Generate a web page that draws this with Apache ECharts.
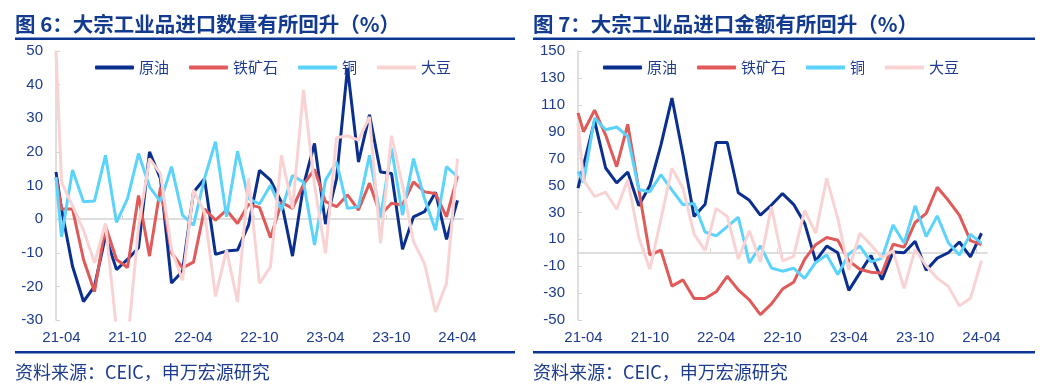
<!DOCTYPE html>
<html>
<head>
<meta charset="utf-8">
<script src="https://cdn.jsdelivr.net/npm/echarts@6/dist/echarts.min.js"></script>
<style>
html,body{margin:0;padding:0;background:#fff;}
#c{width:1043px;height:390px;}
</style>
</head>
<body>
<div id="c"></div>
<script>
// ---- tick labels / categories (monthly, 21-04 .. 24-04) ----
const months = ['21-04','21-05','21-06','21-07','21-08','21-09','21-10','21-11','21-12',
  '22-01','22-02','22-03','22-04','22-05','22-06','22-07','22-08','22-09','22-10','22-11','22-12',
  '23-01','23-02','23-03','23-04','23-05','23-06','23-07','23-08','23-09','23-10','23-11','23-12',
  '24-01','24-02','24-03','24-04'];
const labelMonths = ['21-04','21-10','22-04','22-10','23-04','23-10','24-04'];
// the first reading of every series sits half a month before 21-04, on the axis edge
const leadOffset = -0.5;

const seriesNames = ['原油','铁矿石','铜','大豆'];

// ---- 图6: import volume yoy (%) : first value = lead reading, then 21-04..24-04 ----
const oilQty    = [14, 3, -14, -24.5, -20, -5, -15, -12, -8.5, 20, 12, -19, -15.5, 8, 12, -10.5, -9.5, -9.2, -1.8, 14.5, 11.6, 5, -11, 10, 22.5, -1.5, 12, 45, 17, 31, 14, 13.6, -9, 0.7, 2.2, 8, -6, 5.6];
const oreQty    = [12.5, 3, 3, -12, -21.6, -2, -12, -14.4, 7, -11, 9.5, -10, -14.5, -12.8, 3, -0.3, 2.7, -1.3, 4.4, 3.5, -5.5, 5, 3.2, 10.3, 14.8, 5.2, 3.7, 7.2, 2.7, 10.7, 1.2, 4.7, 4.2, 11.1, 8.1, 7.6, 0.7, 12.8];
const copperQty = [12.5, -5.3, 14.6, 5.2, 5.4, 19, -1, 6.1, 19.5, 9.6, 5.2, 15.6, 1.2, -1.8, 12.1, 23, 0.7, 20.2, 6.1, 4.5, 10.1, 2.7, 13, 11, -7.7, 11.6, 17, 3.2, 3.7, 19, 0.5, 21, 1.2, 18, 6.1, -3.3, 15.6, 12.6];
const soyQty    = [50, 11, 4, -3.3, -13, -1.3, -33, -37, -2.5, 18, 13.5, -9, -18.2, 8.6, 2, -23, -9.2, -24.6, 12.1, -19.1, -14.2, 19, 3.2, 38.4, 10.1, -10.2, 24.2, 24.8, 23.5, 30.4, -7.2, 24.8, 10.1, -6.7, -13.2, -27.6, -19.1, 18];

// ---- 图7: import value yoy (%) ----
const oilVal    = [48, 65, 98, 63, 52, 60, 35, 50, 80, 115, 72.7, 27, 36, 82, 82, 44.6, 39, 28, 35.5, 44, 36, 22, -6, 5, 0, -28, -15, -2, -20, 0.5, 0, 8.5, -13, -4, 0, 8, -3, 14.5];
const oreVal    = [104, 90, 106, 87.5, 64, 95.5, 47, -1.7, 2, -24.8, -20.2, -34, -34, -29, -17.5, -27.6, -35, -46, -38, -27, -22, -5, 6, 11.3, 9.3, -6, -12.3, -14.5, -15, 6.3, 4.2, 22.5, 29.3, 48.7, 39, 28, 9, 6];
const copperVal = [60.5, 52.2, 100.2, 91.5, 93.5, 86.5, 47, 45.4, 58, 46.6, 35.7, 36.7, 15.4, 12.6, 19.4, 26.4, -7.6, 5.1, -11.3, -13.7, -11.5, -19, -7.2, -1.7, -16.2, -1, 5, -6.8, -4, 20.6, 7.2, 34.9, 12, 27.4, 7.5, -1.7, 13.7, 7.2];
const soyVal    = [96, 54, 41.8, 45, 32.3, 54.3, 11.3, -12.2, 24.8, 62.8, 48, 13.8, 1.6, 33, 27, -4.8, 16.3, -6.8, 34.2, -6, -2.7, 31.5, 14.5, 55.3, 25.6, -12.8, 14.5, 5.7, -3.6, 1.4, -26.5, 2.5, -9.6, -19, -25, -39.5, -33.9, -5.9];

const titles = ['图 6：大宗工业品进口数量有所回升（%）', '图 7：大宗工业品进口金额有所回升（%）'];
const source = '资料来源：CEIC，申万宏源研究';

// ---- styling ----
const colors = ['#0b2f8e', '#e05a5a', '#5cd3fb', '#f9d3d3'];
const textBlue = '#1d3c8f';
const titleBlue = '#123a8f';
const lineBlue = '#0b3791';
const axisGray = '#d4d4d4';
const numFont = '"Liberation Sans", Arial, "Noto Sans CJK SC", sans-serif';
const cjkFont = '"Noto Sans CJK SC", "Liberation Sans", sans-serif';

const xPos = [leadOffset].concat(months.map((m, i) => i));
const labelIdx = labelMonths.map(m => months.indexOf(m));
const tickPos = labelIdx.map(i => i - 0.5).filter(v => v > leadOffset);
const xMin = leadOffset, xMax = months.length - 1 + 0.5;

function toPairs(arr) { return arr.map((v, i) => [xPos[i], v]); }

const grids = [
  {left: 56, top: 51, width: 407, height: 269, outerBoundsMode: 'none'},
  {left: 578, top: 51, width: 409, height: 269, outerBoundsMode: 'none'}
];

function labelAxis(g) {
  return {
    type: 'value', gridIndex: g, min: xMin, max: xMax, position: 'bottom',
    axisLine: {show: false, onZero: false}, axisTick: {show: false}, splitLine: {show: false},
    axisLabel: {customValues: labelIdx, formatter: v => months[Math.round(v)],
      color: textBlue, fontSize: 15, fontFamily: numFont, margin: 10}
  };
}
function zeroAxis(g) {
  return {
    type: 'value', gridIndex: g, min: xMin, max: xMax, position: 'bottom',
    axisLine: {show: true, onZero: true, lineStyle: {color: axisGray, width: 1.5}},
    axisTick: {show: true, inside: true, length: 4, customValues: tickPos, lineStyle: {color: axisGray, width: 1}},
    axisLabel: {show: false}, splitLine: {show: false}
  };
}
function yAxis(g, min, max, interval) {
  return {
    type: 'value', gridIndex: g, min: min, max: max, interval: interval,
    axisLine: {show: true, onZero: false, lineStyle: {color: axisGray, width: 1.5}},
    axisTick: {show: true, inside: true, length: 4, lineStyle: {color: axisGray}},
    splitLine: {show: false},
    axisLabel: {color: textBlue, fontSize: 15, fontFamily: numFont, margin: 13}
  };
}

const qtySets = [oilQty, oreQty, copperQty, soyQty];
const valSets = [oilVal, oreVal, copperVal, soyVal];
const series = [];
qtySets.forEach((arr, k) => series.push({
  name: seriesNames[k], type: 'line', xAxisIndex: 0, yAxisIndex: 0, data: toPairs(arr),
  symbol: 'none', clip: true, lineStyle: {color: colors[k], width: 3}, itemStyle: {color: colors[k]}, z: 2 + k
}));
valSets.forEach((arr, k) => series.push({
  name: seriesNames[k], type: 'line', xAxisIndex: 2, yAxisIndex: 1, data: toPairs(arr),
  symbol: 'none', clip: true, lineStyle: {color: colors[k], width: 3}, itemStyle: {color: colors[k]}, z: 2 + k
}));

function legend(left) {
  return {
    left: left, top: 55, data: seriesNames, icon: 'roundRect', itemWidth: 39, itemHeight: 4, itemGap: 20,
    selectedMode: false,
    textStyle: {color: textBlue, fontSize: 15, fontFamily: cjkFont}
  };
}

const panelX = [15, 533];
const panelW = [500, 502];
const graphic = [];
[0, 1].forEach(p => {
  graphic.push({type: 'text', left: panelX[p], top: 14, silent: true,
    style: {text: titles[p], fill: titleBlue, font: 'bold 20.5px ' + cjkFont}});
  graphic.push({type: 'rect', shape: {x: panelX[p], y: 37.5, width: panelW[p], height: 2.6}, silent: true,
    style: {fill: lineBlue}});
  graphic.push({type: 'rect', shape: {x: panelX[p], y: 351, width: panelW[p], height: 2.6}, silent: true,
    style: {fill: lineBlue}});
  graphic.push({type: 'text', left: panelX[p], top: 363, silent: true,
    style: {text: source, fill: textBlue, font: '18px ' + cjkFont}});
});

const chart = echarts.init(document.getElementById('c'), null, {renderer: 'canvas'});
chart.setOption({
  animation: false,
  backgroundColor: '#ffffff',
  grid: grids,
  xAxis: [labelAxis(0), zeroAxis(0), labelAxis(1), zeroAxis(1)],
  yAxis: [yAxis(0, -30, 50, 10), yAxis(1, -50, 150, 20)],
  legend: [legend(90), legend(598)],
  graphic: graphic,
  series: series
});
</script>
</body>
</html>
